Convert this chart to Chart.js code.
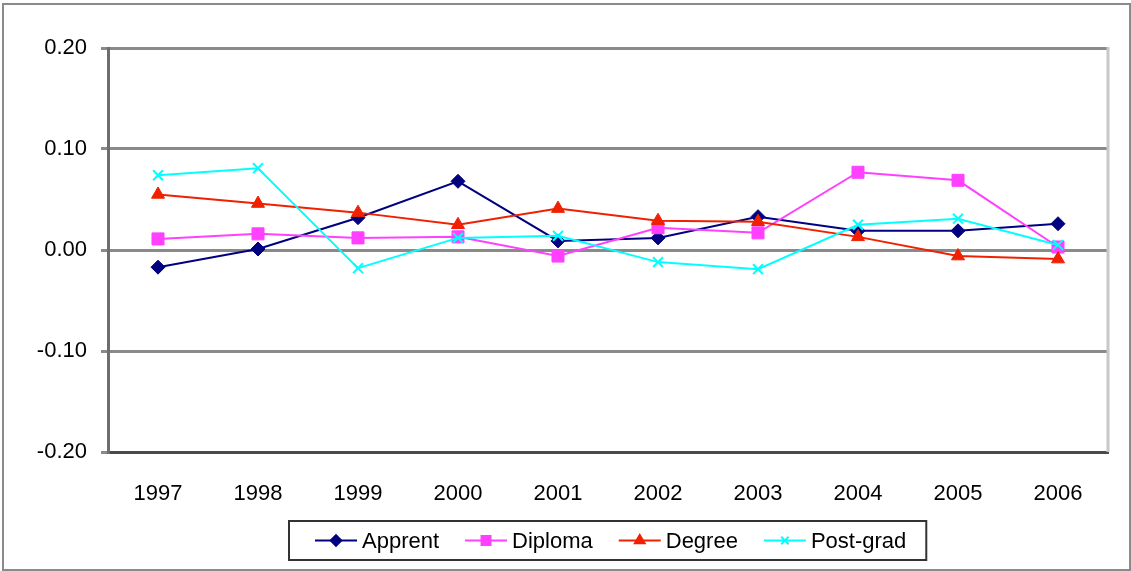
<!DOCTYPE html>
<html>
<head>
<meta charset="utf-8">
<script src="https://cdn.jsdelivr.net/npm/chart.js@4.4.1/dist/chart.umd.min.js"></script>
<style>
  html, body { margin: 0; padding: 0; background: #fff; }
  #wrap { width: 1131px; height: 571px; position: relative; }
</style>
</head>
<body>
<div id="wrap"><canvas id="c" width="1131" height="571"></canvas></div>
<script>
// Year categories and yearly change per qualification group
const years = ['1997', '1998', '1999', '2000', '2001', '2002', '2003', '2004', '2005', '2006'];
const apprent  = [-0.017, 0.001, 0.032, 0.068, 0.009, 0.012, 0.033, 0.019, 0.019, 0.026];
const diploma  = [0.011, 0.016, 0.012, 0.013, -0.006, 0.022, 0.017, 0.077, 0.069, 0.003];
const degree   = [0.055, 0.046, 0.037, 0.025, 0.041, 0.029, 0.028, 0.013, -0.006, -0.009];
const postgrad = [0.074, 0.081, -0.018, 0.012, 0.014, -0.012, -0.019, 0.025, 0.031, 0.005];
const yTicks = [-0.20, -0.10, 0.00, 0.10, 0.20];

const FONT = '"Liberation Sans", Arial, sans-serif';

// Excel-style legend: line segment with marker, then label, inside a framed box
const boxLegend = {
  id: 'boxLegend',
  afterDraw(chart) {
    const ctx = chart.ctx;
    const area = chart.chartArea;
    ctx.save();
    ctx.font = '22px ' + FONT;
    const lineLen = 42, gapText = 5, gapItem = 26, padL = 26, padR = 20;
    const items = chart.data.datasets.map(ds => ({ ds, w: ctx.measureText(ds.label).width }));
    let total = padL + padR;
    items.forEach((it, i) => { total += lineLen + gapText + it.w + (i ? gapItem : 0); });
    const cx = (area.left + area.right) / 2;
    const left = Math.round(cx - total / 2);
    const top = 521, h = 39;
    ctx.strokeStyle = '#333';
    ctx.lineWidth = 2;
    ctx.strokeRect(left, top, total, h);
    const cy = top + h / 2;
    let x = left + padL;
    items.forEach((it, i) => {
      if (i) x += gapItem;
      const ds = it.ds;
      ctx.strokeStyle = ds.borderColor;
      ctx.lineWidth = 2;
      ctx.beginPath();
      ctx.moveTo(x, cy);
      ctx.lineTo(x + lineLen, cy);
      ctx.stroke();
      ctx.fillStyle = ds.pointBackgroundColor;
      ctx.strokeStyle = ds.pointBorderColor;
      Chart.helpers.drawPoint(ctx, {
        pointStyle: ds.pointStyle,
        radius: ds.pointRadius * 0.75,
        rotation: 0,
        borderWidth: ds.pointBorderWidth
      }, x + lineLen / 2, cy);
      x += lineLen + gapText;
      ctx.fillStyle = '#000';
      ctx.textBaseline = 'middle';
      ctx.textAlign = 'left';
      ctx.fillText(ds.label, x, cy + 1);
      x += it.w;
    });
    // outer frame of the chart
    ctx.strokeStyle = '#8a8a8a';
    ctx.lineWidth = 2;
    ctx.strokeRect(3, 4, 1127, 566);
    ctx.restore();
  },
  beforeDatasetsDraw(chart) {
    // light right edge of the plot area
    const ctx = chart.ctx;
    const a = chart.chartArea;
    ctx.save();
    ctx.strokeStyle = '#c8c8c8';
    ctx.lineWidth = 3;
    ctx.beginPath();
    ctx.moveTo(a.right, a.top - 1);
    ctx.lineTo(a.right, a.bottom);
    ctx.stroke();
    ctx.restore();
  }
};

function series(label, data, color, style, radius, order) {
  return {
    label, data, order,
    borderColor: color,
    backgroundColor: color,
    borderWidth: 2,
    pointStyle: style,
    pointRadius: radius,
    pointHoverRadius: radius,
    pointBackgroundColor: color,
    pointBorderColor: color,
    pointBorderWidth: style === 'crossRot' ? 2 : 1,
    tension: 0,
    fill: false
  };
}

new Chart(document.getElementById('c'), {
  type: 'line',
  data: {
    labels: years,
    datasets: [
      series('Apprent', apprent, '#000080', 'rectRot', 7, 4),
      series('Diploma', diploma, '#ff40ff', 'rect', 8.5, 3),
      series('Degree', degree, '#f02000', 'triangle', 7.5, 2),
      series('Post-grad', postgrad, '#00ffff', 'crossRot', 7, 1)
    ]
  },
  options: {
    responsive: false,
    animation: false,
    devicePixelRatio: 1,
    layout: { autoPadding: false, padding: { top: 48, left: 0, right: 23, bottom: 39 } },
    plugins: { legend: { display: false }, tooltip: { enabled: false } },
    scales: {
      x: {
        offset: true,
        afterFit(scale) { scale.height = 80; },
        grid: { display: false, drawTicks: false },
        border: { display: true, color: '#4a4a4a', width: 3 },
        ticks: { padding: 29, color: '#000', font: { family: FONT, size: 22 }, maxRotation: 0 }
      },
      y: {
        min: -0.2,
        max: 0.2,
        afterFit(scale) { scale.width = 108; },
        afterBuildTicks(scale) { scale.ticks = yTicks.map(v => ({ value: v })); },
        grid: { color: '#8a8a8a', lineWidth: 3, tickLength: 7, tickColor: '#8a8a8a' },
        border: { display: true, color: '#6e6e6e', width: 3 },
        ticks: {
          padding: 14,
          color: '#000',
          font: { family: FONT, size: 22 },
          callback: v => Number(v).toFixed(2)
        }
      }
    }
  },
  plugins: [boxLegend]
});
</script>
</body>
</html>
